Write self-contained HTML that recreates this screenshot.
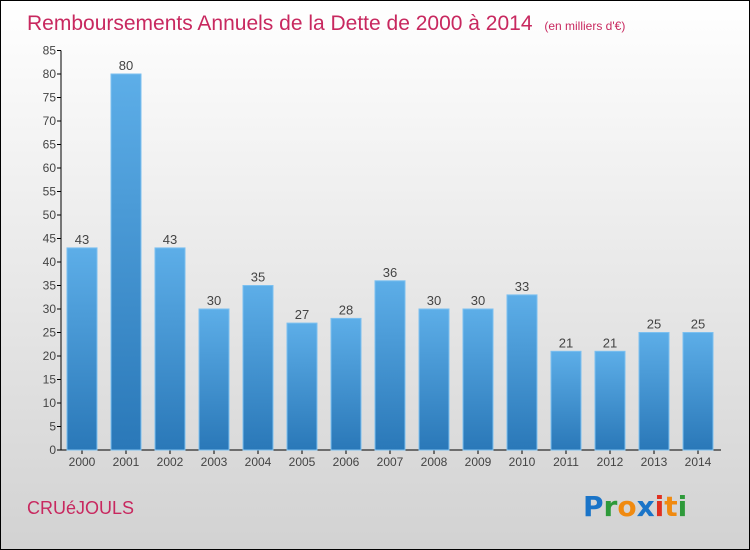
<!DOCTYPE html>
<html><head><meta charset="utf-8"><style>
html,body{margin:0;padding:0}
body{width:750px;height:550px;overflow:hidden;font-family:"Liberation Sans",sans-serif}
#wrap{position:relative;width:748px;height:548px;border:1px solid #000;background:linear-gradient(#ffffff,#d2d2d2)}
</style></head><body>
<div id="wrap">
<svg id="chart" width="748" height="548" style="position:absolute;left:0;top:0">
<defs><linearGradient id="bg" x1="0" y1="0" x2="0" y2="1"><stop offset="0" stop-color="#5daee8"/><stop offset="1" stop-color="#2a78b8"/></linearGradient></defs>
<text x="26" y="29" font-size="21" fill="#c8285f">Remboursements Annuels de la Dette de 2000 à 2014 <tspan font-size="12" dx="6">(en milliers d'€)</tspan></text>
<text x="26" y="513" font-size="18" fill="#c8285f">CRUéJOULS</text>
<g font-size="28" font-weight="bold" font-family="DejaVu Sans,sans-serif">
<text x="582" y="515" fill="#1a74c8">P<tspan fill="#2e9a3a">r</tspan><tspan fill="#f08a10">o</tspan><tspan fill="#1a74c8">x</tspan><tspan fill="#e03020">i</tspan><tspan fill="#f08a10">t</tspan><tspan fill="#2e9a3a">i</tspan></text></g>
<g id="axes"></g><g id="bars"></g>
</svg>
</div>
<script>
const years=["2000","2001","2002","2003","2004","2005","2006","2007","2008","2009","2010","2011","2012","2013","2014"];
const values=[43,80,43,30,35,27,28,36,30,30,33,21,21,25,25];
const yTicks=[0,5,10,15,20,25,30,35,40,45,50,55,60,65,70,75,80,85];
const NS="http://www.w3.org/2000/svg";
const y0=449,yPer=4.7,x0=60,x1=720,step=44,first=81,bw=30;
const ys=v=>y0-v*yPer, xs=i=>first+i*step;
function mk(t,a,p){const e=document.createElementNS(NS,t);for(const k in a)e.setAttribute(k,a[k]);p.appendChild(e);return e;}
const ax=document.getElementById('axes'),bg=document.getElementById('bars');
const yl=mk('line',{x1:x0,y1:ys(85),x2:x0,y2:y0,stroke:'#000'},ax);


const xl=mk('line',{x1:x0,y1:y0,x2:x1,y2:y0,stroke:'#000'},ax);


yTicks.forEach(v=>{
 mk('line',{x1:x0-4,y1:ys(v),x2:x0,y2:ys(v),stroke:'#000'},ax);
 const t=mk('text',{x:x0-5,y:ys(v)+4,'font-size':12,fill:'#444','text-anchor':'end'},ax);
 t.textContent=v;
 
 
});
years.forEach((yr,i)=>{
 const cx=xs(i),v=values[i];
 const r=mk('rect',{x:cx-bw/2,y:ys(v),width:bw,height:y0-ys(v),fill:'url(#bg)',stroke:'#7cc0f0','stroke-width':1},bg);
 
 
 mk('line',{x1:cx,y1:y0,x2:cx,y2:y0+4,stroke:'#000'},ax);
 const t=mk('text',{x:cx,y:y0+16,'font-size':12,fill:'#444','text-anchor':'middle'},ax);
 t.textContent=yr;
 
 
 const l=mk('text',{x:cx,y:ys(v)-4,'font-size':13,fill:'#444','text-anchor':'middle'},bg);
 l.textContent=v;
 
 
});
</script>
</body></html>
